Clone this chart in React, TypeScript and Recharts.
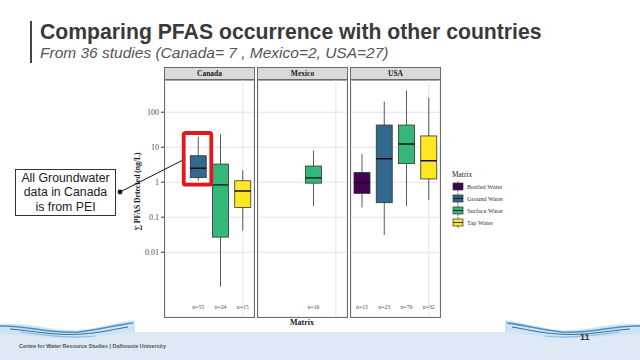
import React from 'react'
import { ComposedChart, Bar, XAxis, YAxis, CartesianGrid } from 'recharts'

// categories (shared x axis of every facet)
const MATRIX = ['Bottled Water', 'Ground Water', 'Surface Water', 'Tap Water']
const COLORS = ['#440154', '#31688E', '#35B779', '#FDE725']

// box stats per facet (ng/L), null = no samples
const CANADA_LOW = [null, 1.1, 0.00104, 0.041]
const CANADA_Q1 = [null, 1.35, 0.027, 0.19]
const CANADA_MED = [null, 2.5, 0.84, 0.56]
const CANADA_Q3 = [null, 5.7, 3.3, 1.1]
const CANADA_HIGH = [null, 20, 23.5, 2.2]
const CANADA_N = [null, 55, 24, 15]

const MEXICO_LOW = [null, null, 0.21, null]
const MEXICO_Q1 = [null, null, 0.94, null]
const MEXICO_MED = [null, null, 1.33, null]
const MEXICO_Q3 = [null, null, 2.9, null]
const MEXICO_HIGH = [null, null, 8, null]
const MEXICO_N = [null, null, 16, null]

const USA_LOW = [0.19, 0.031, 0.21, 0.31]
const USA_Q1 = [0.48, 0.26, 3.4, 1.24]
const USA_MED = [0.97, 4.7, 12.4, 4.1]
const USA_Q3 = [1.9, 43, 43, 21]
const USA_HIGH = [6.4, 200, 415, 260]
const USA_N = [15, 23, 79, 32]

const Y_TICKS = [0.01, 0.1, 1, 10, 100]
const Y_DOMAIN = [1.41e-4, 832]
const N_LABEL_AT = 2.7e-4

const SERIF = '"Liberation Serif", "DejaVu Serif", serif'
const SANS = '"Liberation Sans", Arial, sans-serif'

function makeRows(low, q1, med, q3, high, n) {
  return MATRIX.map((m, i) => ({
    matrix: m,
    low: low[i],
    q1: q1[i],
    med: med[i],
    q3: q3[i],
    high: high[i],
    n: n[i],
    range: low[i] == null ? null : [low[i], high[i]],
  }))
}

const FACETS = [
  { name: 'Canada', left: 165, rows: makeRows(CANADA_LOW, CANADA_Q1, CANADA_MED, CANADA_Q3, CANADA_HIGH, CANADA_N) },
  { name: 'Mexico', left: 258, rows: makeRows(MEXICO_LOW, MEXICO_Q1, MEXICO_MED, MEXICO_Q3, MEXICO_HIGH, MEXICO_N) },
  { name: 'USA', left: 351, rows: makeRows(USA_LOW, USA_Q1, USA_MED, USA_Q3, USA_HIGH, USA_N) },
]

const PANEL_W = 89
const PANEL_TOP = 80
const PANEL_H = 237
const AXIS_W = 40

// the bar spans whisker low..high; everything else is placed on the same log scale
function BoxShape(props: any) {
  const { x, y, width, height, payload } = props
  if (!payload || payload.low == null || !isFinite(y) || !isFinite(height)) return null
  const top = Math.min(y, y + height)
  const h = Math.abs(height)
  const lHi = Math.log10(payload.high)
  const lLo = Math.log10(payload.low)
  const ppd = h / (lHi - lLo)
  const py = (v: number) => top + (lHi - Math.log10(v)) * ppd
  const cx = x + width / 2
  const color = COLORS[MATRIX.indexOf(payload.matrix)]
  return (
    <g>
      <line x1={cx} x2={cx} y1={py(payload.high)} y2={py(payload.low)} stroke="#5a5a5a" strokeWidth={1} />
      <rect x={x} y={py(payload.q3)} width={width} height={py(payload.q1) - py(payload.q3)} fill={color} stroke="#333" strokeWidth={0.8} />
      <line x1={x} x2={x + width} y1={py(payload.med)} y2={py(payload.med)} stroke="#111" strokeWidth={1.4} />
      <text x={cx} y={py(N_LABEL_AT)} textAnchor="middle" dominantBaseline="central" fontSize={5.8} fontFamily={SERIF} fill="#4d4d4d">
        {'n=' + payload.n}
      </text>
    </g>
  )
}

function YTitle(props: any) {
  const vb = props.viewBox || {}
  const x = vb.x + 12
  const y = vb.y + vb.height / 2 - 7
  return (
    <text x={x} y={y} transform={`rotate(-90 ${x} ${y})`} textAnchor="middle" dominantBaseline="central" fontSize={7.6} fontWeight="bold" fontFamily={SERIF} fill="#1a1a1a">
      ∑ PFAS Detected (ng/L)
    </text>
  )
}

function Facet({ facet, withAxis }: { facet: any; withAxis: boolean }) {
  const w = PANEL_W + (withAxis ? AXIS_W : 0)
  return (
    <>
      <div style={{ position: 'absolute', left: facet.left - 1, top: 67, width: PANEL_W, height: 12, background: '#d9d9d9', border: '1px solid #6b6b6b', fontFamily: SERIF, fontWeight: 'bold', fontSize: 7.5, lineHeight: '12px', textAlign: 'center', color: '#1a1a1a' }}>
        {facet.name}
      </div>
      <div style={{ position: 'absolute', left: facet.left - (withAxis ? AXIS_W : 0), top: PANEL_TOP }}>
        <ComposedChart width={w} height={PANEL_H} data={facet.rows} margin={{ top: 0, right: 0, bottom: 0, left: 0 }}>
          <CartesianGrid stroke="#e3e3e3" strokeWidth={1} />
          <XAxis dataKey="matrix" type="category" hide />
          <YAxis
            scale="log"
            type="number"
            domain={Y_DOMAIN}
            ticks={Y_TICKS}
            allowDataOverflow
            hide={!withAxis}
            width={AXIS_W}
            axisLine={false}
            tickSize={4}
            tickLine={{ stroke: '#333' }}
            tick={{ fontSize: 8, fontFamily: SERIF, fill: '#4d4d4d' }}
            tickFormatter={(v) => String(v)}
            label={withAxis ? <YTitle /> : undefined}
          />
          <Bar dataKey="range" barSize={16} shape={<BoxShape />} isAnimationActive={false} />
        </ComposedChart>
      </div>
      <div style={{ position: 'absolute', left: facet.left - 1, top: PANEL_TOP - 1, width: PANEL_W, height: PANEL_H, border: '1px solid #6b6b6b', pointerEvents: 'none' }} />
    </>
  )
}

function MatrixLegend() {
  return (
    <div style={{ position: 'absolute', left: 452, top: 170, fontFamily: SERIF, color: '#222' }}>
      <div style={{ fontSize: 7.4, height: 10, lineHeight: '10px' }}>Matrix</div>
      {MATRIX.map((m, i) => (
        <div key={m} style={{ display: 'flex', alignItems: 'center', height: 12.2 }}>
          <svg width={12} height={11} style={{ display: 'block' }}>
            <line x1={6} x2={6} y1={0} y2={11} stroke="#5a5a5a" strokeWidth={0.8} />
            <rect x={1} y={2} width={10} height={7} fill={COLORS[i]} stroke="#333" strokeWidth={0.7} />
            <line x1={1} x2={11} y1={5.5} y2={5.5} stroke="#111" strokeWidth={0.8} />
          </svg>
          <span style={{ fontSize: 6.4, marginLeft: 3, color: '#333' }}>{m}</span>
        </div>
      ))}
    </div>
  )
}

function Splash({ left, flip }: { left: number; flip: boolean }) {
  return (
    <svg width={135} height={26} style={{ position: 'absolute', left, top: 316, transform: flip ? 'scaleX(-1)' : undefined }}>
      <path d="M0,8 C30,6 55,16 80,14 C100,12 118,6 135,4 L135,16 C112,18 96,22 70,22 C40,22 20,18 0,18 Z" fill="#cfe3f3" />
      <path d="M0,10 C25,9 50,18 78,16 C98,14 116,9 133,7" fill="none" stroke="#4d8fc4" strokeWidth={1.6} />
      <path d="M10,13 C35,15 55,20 82,18 C100,17 115,13 128,11" fill="none" stroke="#2f6fa8" strokeWidth={1} />
      <path d="M20,16 C45,19 70,23 95,20" fill="none" stroke="#8fbde0" strokeWidth={1.2} />
    </svg>
  )
}

export default function App() {
  return (
    <div style={{ position: 'absolute', left: 0, top: 0, width: 640, height: 360, overflow: 'hidden', background: '#fff' }}>
      <div style={{ position: 'absolute', left: 30, top: 21, width: 1.5, height: 42, background: '#444' }} />
      <div style={{ position: 'absolute', left: 40, top: 19, fontFamily: SANS, fontWeight: 'bold', fontSize: 21.2, color: '#3a3a3a', whiteSpace: 'nowrap', lineHeight: '25px' }}>
        Comparing PFAS occurrence with other countries
      </div>
      <div style={{ position: 'absolute', left: 40, top: 43, fontFamily: SANS, fontStyle: 'italic', fontSize: 15.5, color: '#555', whiteSpace: 'nowrap', lineHeight: '19px' }}>
        From 36 studies (Canada= 7 , Mexico=2, USA=27)
      </div>

      {FACETS.map((f, i) => (
        <Facet key={f.name} facet={f} withAxis={i === 0} />
      ))}

      <div style={{ position: 'absolute', left: 270, top: 318, width: 64, textAlign: 'center', fontFamily: SERIF, fontWeight: 'bold', fontSize: 8, lineHeight: '10px', color: '#1a1a1a' }}>
        Matrix
      </div>

      <MatrixLegend />

      <svg width={640} height={360} style={{ position: 'absolute', left: 0, top: 0, pointerEvents: 'none' }}>
        <line x1={120} y1={192} x2={185} y2={159} stroke="#111" strokeWidth={1} />
        <circle cx={120} cy={192} r={2.4} fill="#111" />
        <rect x={183.7} y={133} width={27.6} height={51.7} rx={2} fill="none" stroke="#e3171c" strokeWidth={3.8} />
      </svg>
      <div style={{ position: 'absolute', left: 15, top: 169, width: 99, height: 45, border: '1px solid #333', background: '#fff', fontFamily: SANS, fontSize: 12.3, lineHeight: '14.5px', color: '#222', textAlign: 'center', display: 'flex', alignItems: 'center', justifyContent: 'center' }}>
        <div>All Groundwater<br />data in Canada<br />is from PEI</div>
      </div>

      <div style={{ position: 'absolute', left: 0, top: 332, width: 640, height: 28, background: '#dde9f5' }} />
      <Splash left={0} flip={false} />
      <Splash left={505} flip={true} />
      <div style={{ position: 'absolute', left: 19, top: 343, fontFamily: SANS, fontWeight: 'bold', fontSize: 5.4, color: '#555', whiteSpace: 'nowrap' }}>
        Centre for Water Resource Studies | Dalhousie University
      </div>
      <div style={{ position: 'absolute', left: 580, top: 332, fontFamily: SANS, fontWeight: 'bold', fontSize: 9, color: '#333' }}>11</div>
    </div>
  )
}
